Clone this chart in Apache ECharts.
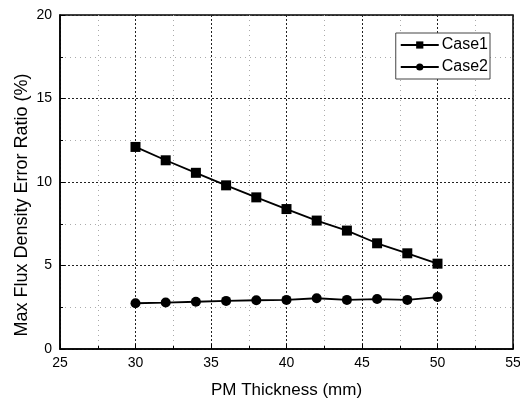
<!DOCTYPE html>
<html><head><meta charset="utf-8">
<script src="https://cdn.jsdelivr.net/npm/echarts@6/dist/echarts.min.js"></script>
<style>html,body{margin:0;padding:0;background:#fff}#c{width:520px;height:398px}</style>
</head><body><div id="c"></div>
<script>
const thickness = [30, 32, 34, 36, 38, 40, 42, 44, 46, 48, 50];
const case1 = [12.1, 11.3, 10.55, 9.8, 9.08, 8.38, 7.69, 7.09, 6.33, 5.73, 5.11];
const case2 = [2.74, 2.78, 2.83, 2.88, 2.92, 2.94, 3.04, 2.94, 2.99, 2.94, 3.11];
const seriesNames = ['Case1', 'Case2'];

const chart = echarts.init(document.getElementById('c'), null, {renderer: 'canvas'});
const font = 'Liberation Sans, Arial, sans-serif';
function pairs(xs, ys){ return xs.map((x,i)=>[x, ys[i]]); }
chart.setOption({
  animation: false,
  backgroundColor: '#fff',
  grid: {left: 60, right: 7, top: 15, bottom: 49, outerBoundsMode: 'none', containLabel: false,
         show: true, borderColor: '#000', borderWidth: 1.5, backgroundColor: 'transparent'},
  legend: {
    right: 30, top: 33, orient: 'vertical',
    data: seriesNames,
    backgroundColor: '#fff', borderColor: '#444', borderWidth: 1,
    padding: [4, 2, 4, 4], itemGap: 6, itemWidth: 38, itemHeight: 9,
    textStyle: {fontFamily: font, fontSize: 16, color: '#000', padding: [0,0,0,-2]}
  },
  xAxis: {
    type: 'value', min: 25, max: 55, interval: 5,
    name: 'PM Thickness (mm)', nameLocation: 'middle', nameGap: 33, nameMoveOverlap: false,
    nameTextStyle: {fontFamily: font, fontSize: 17, color: '#000'},
    axisLine: {onZero: false, lineStyle: {color: '#000', width: 1.5}},
    axisTick: {inside: true, length: 5, lineStyle: {color: '#000'}},
    minorTick: {show: true, splitNumber: 2, length: 3, lineStyle: {color: '#000'}},
    axisLabel: {fontFamily: font, fontSize: 14, color: '#000', margin: 7},
    splitLine: {show: true, lineStyle: {color: '#222', type: [2, 2], width: 1}},
    minorSplitLine: {show: true, lineStyle: {color: '#aaa', type: [1, 4], width: 1}}
  },
  yAxis: {
    type: 'value', min: 0, max: 20, interval: 5,
    name: 'Max Flux Density Error Ratio (%)', nameLocation: 'middle', nameGap: 29, nameMoveOverlap: false,
    nameTextStyle: {fontFamily: font, fontSize: 18, color: '#000', padding: [0, 46, 0, 0]},
    axisLine: {show: true, onZero: false, lineStyle: {color: '#000', width: 1.5}},
    axisTick: {show: true, inside: true, length: 5, lineStyle: {color: '#000'}},
    minorTick: {show: true, splitNumber: 2, length: 3, lineStyle: {color: '#000'}},
    axisLabel: {fontFamily: font, fontSize: 14, color: '#000', margin: 8},
    splitLine: {show: true, lineStyle: {color: '#222', type: [2, 2], width: 1}},
    minorSplitLine: {show: true, lineStyle: {color: '#aaa', type: [1, 4], width: 1}}
  },
  series: [
    {name: seriesNames[0], type: 'line', data: pairs(thickness, case1), symbol: 'rect', symbolSize: 10,
     lineStyle: {color: '#000', width: 1.8}, itemStyle: {color: '#000'}},
    {name: seriesNames[1], type: 'line', data: pairs(thickness, case2), symbol: 'circle', symbolSize: 10,
     lineStyle: {color: '#000', width: 1.8}, itemStyle: {color: '#000'}}
  ]
});
</script></body></html>
